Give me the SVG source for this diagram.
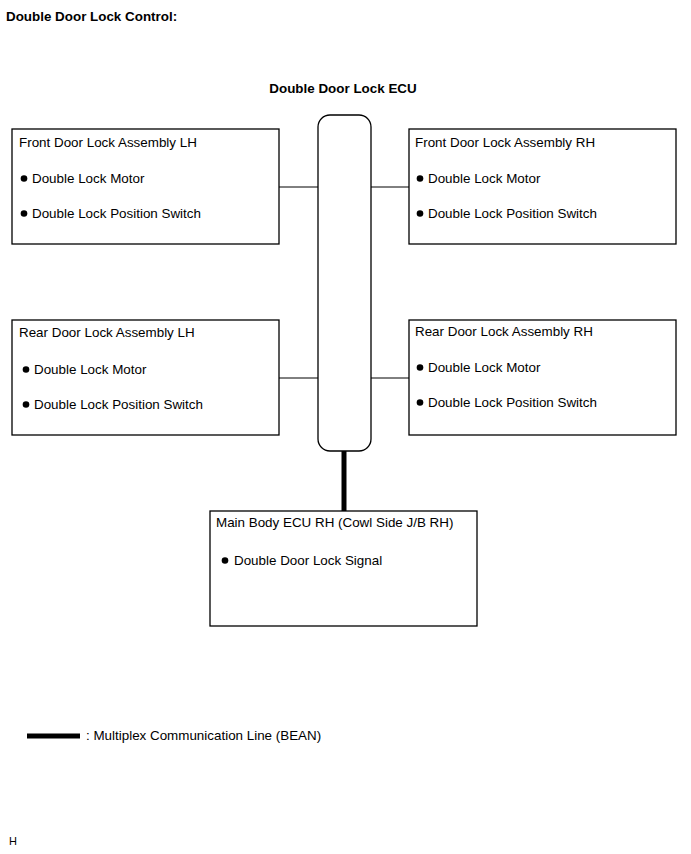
<svg xmlns="http://www.w3.org/2000/svg" width="691" height="854" viewBox="0 0 691 854">
<style>
text{font-family:"Liberation Sans",Arial,sans-serif;font-size:13.4px;fill:#000}
.b{font-weight:bold}
.box{fill:#fff;stroke:#000;stroke-width:1.3}
.thin{stroke:#000;stroke-width:1;fill:none}
.thick{stroke:#000;stroke-width:5;fill:none}
</style>
<rect width="691" height="854" fill="#fff"/>
<text class="b" x="6" y="21">Double Door Lock Control:</text>
<g id="connectors">
<line class="thin" x1="279" y1="187" x2="318" y2="187"/>
<line class="thin" x1="371" y1="187" x2="409" y2="187"/>
<line class="thin" x1="279" y1="378" x2="318" y2="378"/>
<line class="thin" x1="371" y1="378" x2="409" y2="378"/>
<line class="thick" x1="344" y1="451" x2="344" y2="511"/>
</g>
<g id="ecu">
<text class="b" x="343" y="93" text-anchor="middle">Double Door Lock ECU</text>
<rect class="box" x="318" y="115" width="53" height="336" rx="12"/>
</g>
<g id="front-lh">
<rect class="box" x="12" y="129" width="267" height="115"/>
<text x="19" y="147">Front Door Lock Assembly LH</text>
<circle cx="24" cy="178.5" r="3.3"/><text x="32" y="183">Double Lock Motor</text>
<circle cx="24" cy="213.5" r="3.3"/><text x="32" y="218">Double Lock Position Switch</text>
</g>
<g id="front-rh">
<rect class="box" x="409" y="129" width="267" height="115"/>
<text x="415" y="147">Front Door Lock Assembly RH</text>
<circle cx="420" cy="178.5" r="3.3"/><text x="428" y="183">Double Lock Motor</text>
<circle cx="420" cy="213.5" r="3.3"/><text x="428" y="218">Double Lock Position Switch</text>
</g>
<g id="rear-lh">
<rect class="box" x="12" y="320" width="267" height="115"/>
<text x="19" y="337">Rear Door Lock Assembly LH</text>
<circle cx="26" cy="369.5" r="3.3"/><text x="34" y="374">Double Lock Motor</text>
<circle cx="26" cy="404.5" r="3.3"/><text x="34" y="409">Double Lock Position Switch</text>
</g>
<g id="rear-rh">
<rect class="box" x="409" y="320" width="267" height="115"/>
<text x="415" y="336">Rear Door Lock Assembly RH</text>
<circle cx="420" cy="367.5" r="3.3"/><text x="428" y="372">Double Lock Motor</text>
<circle cx="420" cy="402.5" r="3.3"/><text x="428" y="407">Double Lock Position Switch</text>
</g>
<g id="main-body">
<rect class="box" x="210" y="511" width="267" height="115"/>
<text x="216" y="527">Main Body ECU RH (Cowl Side J/B RH)</text>
<circle cx="225" cy="560.5" r="3.3"/><text x="234" y="565">Double Door Lock Signal</text>
</g>
<g id="legend">
<line class="thick" x1="27" y1="736" x2="80" y2="736"/>
<text x="86" y="740">: Multiplex Communication Line (BEAN)</text>
</g>
<text x="9" y="845" style="font-size:11px">H</text>
</svg>
